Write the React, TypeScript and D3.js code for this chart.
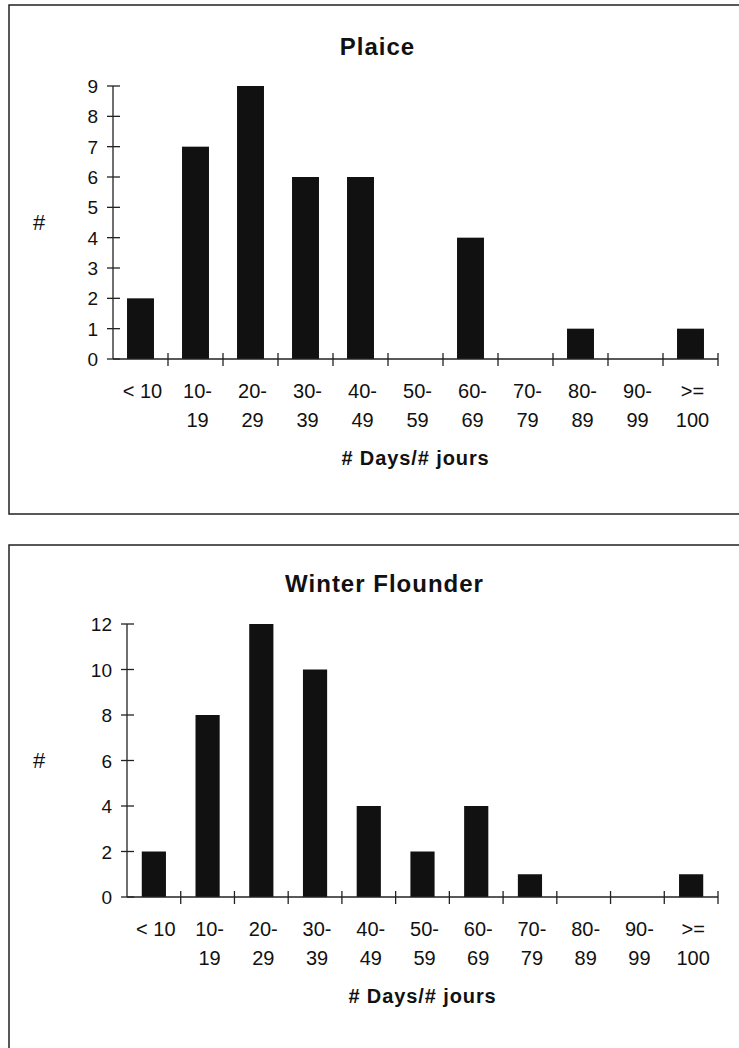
import * as d3 from "d3";

const CATEGORIES: string[][] = [
  ["< 10"], ["10-", "19"], ["20-", "29"], ["30-", "39"], ["40-", "49"], ["50-", "59"],
  ["60-", "69"], ["70-", "79"], ["80-", "89"], ["90-", "99"], [">=", "100"],
];
const PLAICE = [2, 7, 9, 6, 6, 0, 4, 0, 1, 0, 1];
const FLOUNDER = [2, 8, 12, 10, 4, 2, 4, 1, 0, 0, 1];
const PLAICE_TICKS = [0, 1, 2, 3, 4, 5, 6, 7, 8, 9];
const FLOUNDER_TICKS = [0, 2, 4, 6, 8, 10, 12];

const FONT = "'Liberation Sans', Arial, Helvetica, sans-serif";
const INK = "#111";

type PanelProps = {
  title: string;
  values: number[];
  ticks: number[];
  frameTop: number;
  frameBottom: number;
  titleY: number;
  left: number;
  right: number;
  top: number;
  bottom: number;
  pad: number;
};

function Panel(p: PanelProps) {
  const max = d3.max(p.ticks) ?? 1;
  const y = d3.scaleLinear().domain([0, max]).range([p.bottom, p.top]);
  const x = d3.scaleBand<number>()
    .domain(d3.range(CATEGORIES.length))
    .range([p.left, p.right])
    .paddingInner(p.pad)
    .paddingOuter(p.pad / 2);
  const step = x.step();
  const edges = d3.range(CATEGORIES.length + 1).map((i) => p.left + i * step);
  const mid = (p.left + p.right) / 2;

  return (
    <g>
      <rect x={9} y={p.frameTop} width={760} height={p.frameBottom - p.frameTop}
        fill="none" stroke="#222" strokeWidth={1.5} />
      <text x={mid - 38} y={p.titleY} textAnchor="middle" fontFamily={FONT} fontWeight="bold"
        fontSize={24} letterSpacing={1} fill={INK}>{p.title}</text>
      <text x={39} y={(p.top + p.bottom) / 2 + 7} textAnchor="middle" fontFamily={FONT}
        fontSize={22} fill={INK}>#</text>

      {p.values.map((v, i) => (
        <rect key={i} x={x(i)} y={y(v)} width={x.bandwidth()} height={p.bottom - y(v)} fill={INK} />
      ))}

      {/* y axis */}
      <line x1={p.left} x2={p.left} y1={p.top} y2={p.bottom} stroke="#222" strokeWidth={1.3} />
      {p.ticks.map((t) => (
        <g key={t}>
          <line x1={p.left - 6} x2={p.left + 7} y1={y(t)} y2={y(t)} stroke="#222" strokeWidth={1.3} />
          <text x={p.left - 15} y={y(t) + 7} textAnchor="end" fontFamily={FONT} fontSize={19} fill={INK}>{t}</text>
        </g>
      ))}

      {/* x axis */}
      <line x1={p.left} x2={p.right} y1={p.bottom} y2={p.bottom} stroke="#222" strokeWidth={1.3} />
      {edges.slice(1).map((e, i) => (
        <line key={i} x1={e} x2={e} y1={p.bottom - 6} y2={p.bottom + 7} stroke="#222" strokeWidth={1.3} />
      ))}
      {CATEGORIES.map((lines, i) => (
        <text key={i} x={(x(i) ?? 0) + x.bandwidth() / 2 + 2} y={p.bottom + 39} textAnchor="middle"
          fontFamily={FONT} fontSize={20} fill={INK}>
          {lines.map((l, j) => (
            <tspan key={j} x={(x(i) ?? 0) + x.bandwidth() / 2 + 2} dy={j === 0 ? 0 : 28.5}>{l}</tspan>
          ))}
        </text>
      ))}
      <text x={mid} y={p.bottom + 106} textAnchor="middle" fontFamily={FONT} fontWeight="bold"
        fontSize={20} letterSpacing={0.9} fill={INK}># Days/# jours</text>
    </g>
  );
}

export default function App() {
  return (
    <svg width={739} height={1048} viewBox="0 0 739 1048"
      style={{ position: "absolute", left: 0, top: 0, background: "#fff" }}>
      <rect width={739} height={1048} fill="#fff" />
      <Panel title="Plaice" values={PLAICE} ticks={PLAICE_TICKS} frameTop={5} frameBottom={514}
        titleY={55} left={113} right={718} top={86} bottom={359} pad={0.51} />
      <Panel title="Winter Flounder" values={FLOUNDER} ticks={FLOUNDER_TICKS} frameTop={545} frameBottom={1100}
        titleY={592} left={127} right={718} top={624} bottom={897} pad={0.55} />
    </svg>
  );
}
